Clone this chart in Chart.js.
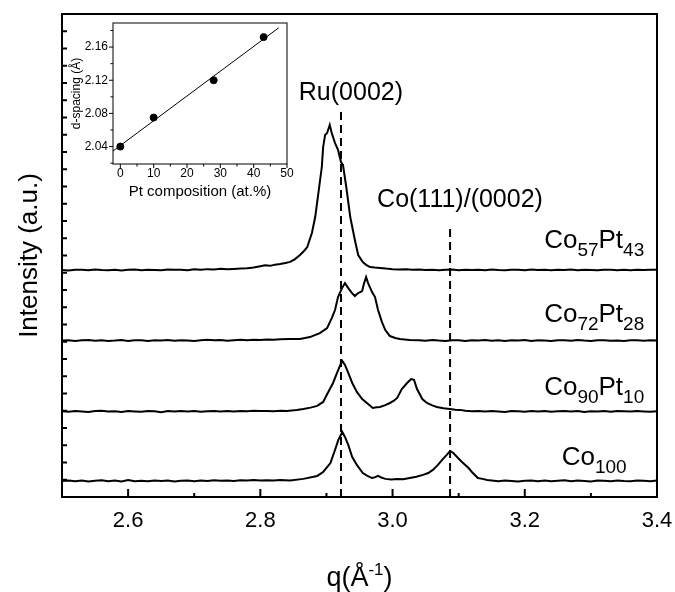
<!DOCTYPE html>
<html>
<head>
<meta charset="utf-8">
<script src="https://cdn.jsdelivr.net/npm/chart.js@4"></script>
<style>
  body { margin: 0; background: #fff; }
  #wrap { position: relative; width: 675px; height: 592px; }
  #mainChart { position: absolute; left: 0; top: 0; }
  #insetChart { position: absolute; left: 60px; top: 10px; }
</style>
</head>
<body>
<div id="wrap">
  <canvas id="mainChart" width="675" height="592"></canvas>
  <canvas id="insetChart" width="240" height="200"></canvas>
</div>
<script>
// ---- main chart data: q (1/A) and intensity above each curve's baseline (a.u.) ----
const q100 = [2.50,2.51,2.52,2.53,2.54,2.55,2.56,2.57,2.58,2.59,2.60,2.61,2.62,2.63,2.64,2.65,2.66,2.67,2.68,2.69,2.70,2.71,2.72,2.73,2.74,2.75,2.76,2.77,2.78,2.79,2.80,2.81,2.82,2.83,
  2.845,2.865,2.886,2.895,2.906,2.913,2.918,2.924,2.928,2.933,2.939,2.946,2.955,2.962,2.969,2.974,2.978,2.983,2.989,2.998,3.007,3.016,3.026,3.036,3.046,3.054,3.061,3.068,3.075,3.082,3.087,3.092,3.099,3.105,3.110,3.115,3.120,3.129,3.136,3.143,
  3.15,3.16,3.17,3.18,3.19,3.20,3.21,3.22,3.23,3.24,3.25,3.26,3.27,3.28,3.29,3.30,3.31,3.32,3.33,3.34,3.35,3.36,3.37,3.38,3.39,3.40];
const i100 = [0.00,0.03,-0.02,0.02,-0.03,0.01,0.04,-0.01,0.02,-0.03,0.06,-0.02,0.01,-0.02,0.03,0.00,0.02,-0.03,0.01,0.03,-0.01,0.02,0.00,0.04,0.01,0.03,0.00,0.04,0.02,0.05,0.03,0.04,0.02,0.05,
  0.02,0.12,0.29,0.52,1.04,1.80,2.38,2.84,2.55,2.09,1.39,0.93,0.46,0.30,0.17,0.22,0.30,0.20,0.12,0.08,0.12,0.10,0.17,0.24,0.35,0.46,0.64,0.90,1.22,1.51,1.74,1.62,1.33,1.10,0.93,0.75,0.52,0.17,0.12,0.06,
  0.03,-0.02,0.02,0.00,-0.03,0.01,0.03,-0.01,0.02,-0.02,0.01,0.04,-0.01,0.02,0.00,-0.03,0.02,0.01,-0.02,0.03,0.00,-0.02,0.02,0.01,-0.01,0.02];

const q90 = [2.50,2.51,2.52,2.53,2.54,2.55,2.56,2.57,2.58,2.59,2.60,2.61,2.62,2.63,2.64,2.65,2.66,2.67,2.68,2.69,2.70,2.71,2.72,2.73,2.74,2.75,2.76,2.77,2.78,2.79,2.80,2.81,2.82,2.83,2.84,
  2.855,2.865,2.876,2.886,2.895,2.902,2.910,2.916,2.921,2.924,2.928,2.933,2.939,2.946,2.954,2.963,2.970,2.976,2.981,2.988,2.996,3.002,3.007,3.014,3.022,3.028,3.0325,3.037,3.045,3.052,3.060,3.067,3.077,3.087,3.095,3.102,
  3.11,3.12,3.13,3.14,3.15,3.16,3.17,3.18,3.19,3.20,3.21,3.22,3.23,3.24,3.25,3.26,3.27,3.28,3.29,3.30,3.31,3.32,3.33,3.34,3.35,3.36,3.37,3.38,3.39,3.40];
const i90 = [0.01,-0.02,0.03,0.00,-0.03,0.02,0.04,-0.01,0.01,-0.03,0.02,0.00,-0.02,0.03,0.01,-0.04,0.02,0.00,0.03,-0.01,0.02,-0.02,0.01,0.03,0.00,0.02,-0.01,0.03,0.01,0.04,0.02,0.03,0.01,0.04,0.03,
  0.08,0.14,0.22,0.32,0.55,1.07,1.65,2.23,2.70,2.93,2.70,2.23,1.65,1.13,0.72,0.43,0.20,0.24,0.26,0.35,0.49,0.62,0.78,1.30,1.65,1.88,1.83,1.30,0.72,0.49,0.35,0.26,0.18,0.14,0.10,0.09,
  0.04,0.01,0.03,-0.01,0.02,0.00,-0.03,0.02,0.01,-0.02,0.03,0.00,0.02,-0.02,0.01,0.03,-0.01,0.02,-0.03,0.01,0.00,0.02,-0.02,0.03,0.01,-0.01,0.02,0.00,-0.02,0.01];

const q72 = [2.50,2.51,2.52,2.53,2.54,2.55,2.56,2.57,2.58,2.59,2.60,2.61,2.62,2.63,2.64,2.65,2.66,2.67,2.68,2.69,2.70,2.71,2.72,2.73,2.74,2.75,2.76,2.77,2.78,2.79,2.80,2.81,2.82,2.83,
  2.845,2.860,2.875,2.890,2.901,2.908,2.913,2.9175,2.9236,2.928,2.933,2.9387,2.943,2.948,2.954,2.957,2.960,2.963,2.969,2.9735,2.978,2.984,2.989,2.996,3.004,3.011,3.018,3.026,
  3.04,3.05,3.06,3.07,3.08,3.09,3.10,3.11,3.12,3.13,3.14,3.15,3.16,3.17,3.18,3.19,3.20,3.21,3.22,3.23,3.24,3.25,3.26,3.27,3.28,3.29,3.30,3.31,3.32,3.33,3.34,3.35,3.36,3.37,3.38,3.39,3.40];
const i72 = [0.00,0.02,-0.03,0.01,0.03,-0.01,0.02,-0.02,0.00,0.03,-0.02,0.01,0.02,-0.03,0.01,0.00,0.03,-0.01,0.02,0.00,-0.02,0.02,0.04,0.01,0.03,-0.01,0.02,0.05,0.02,0.04,0.03,0.06,0.04,0.07,
  0.09,0.09,0.20,0.43,0.72,1.30,1.77,2.52,3.04,3.33,3.04,2.75,2.58,2.75,2.87,3.33,3.68,3.33,2.81,2.52,1.77,1.07,0.61,0.26,0.15,0.09,0.06,0.03,
  0.02,-0.01,0.03,0.00,-0.02,0.02,0.01,-0.03,0.02,0.00,0.03,-0.01,0.01,-0.02,0.02,0.00,0.03,-0.02,0.01,0.00,-0.03,0.02,0.01,-0.01,0.03,0.00,-0.02,0.01,0.02,-0.01,0.00,-0.03,0.02,0.01,-0.01,0.02,0.00];

const q57 = [2.50,2.51,2.52,2.53,2.54,2.55,2.56,2.57,2.58,2.59,2.60,2.61,2.62,2.63,2.64,2.65,2.66,2.67,2.68,2.69,2.70,2.71,2.72,2.73,2.74,2.75,2.76,2.77,
  2.78,2.79,2.80,2.807,2.815,2.822,2.830,2.838,2.845,2.852,2.860,2.866,2.871,2.878,2.883,2.887,2.893,2.895,2.898,2.901,2.905,2.908,2.913,2.9175,2.922,2.925,2.930,2.936,2.943,2.948,2.955,2.960,2.966,2.973,2.981,2.990,
  3.00,3.01,3.02,3.03,3.04,3.05,3.06,3.07,3.08,3.09,3.10,3.11,3.12,3.13,3.14,3.15,3.16,3.17,3.18,3.19,3.20,3.21,3.22,3.23,3.24,3.25,3.26,3.27,3.28,3.29,3.30,3.31,3.32,3.33,3.34,3.35,3.36,3.37,3.38,3.39,3.40];
const i57 = [0.00,-0.03,0.02,0.01,-0.02,0.03,0.00,-0.01,0.02,-0.03,0.01,0.03,-0.01,0.02,0.00,-0.02,0.03,0.01,0.02,-0.01,0.04,0.02,0.05,0.03,0.07,0.04,0.06,0.08,
  0.10,0.15,0.22,0.27,0.24,0.31,0.35,0.40,0.47,0.62,0.87,1.10,1.33,2.14,3.07,4.23,5.97,7.13,7.83,7.94,8.41,7.94,7.36,6.96,6.26,6.09,4.81,3.07,1.74,0.87,0.46,0.30,0.17,0.14,0.12,0.08,
  0.05,0.03,0.04,0.02,0.03,0.00,0.02,-0.01,0.01,0.03,-0.02,0.01,0.00,0.02,-0.01,0.03,0.00,-0.02,0.02,0.01,-0.01,0.03,0.00,0.01,-0.02,0.02,0.00,0.03,-0.01,0.01,0.00,-0.02,0.02,0.01,-0.01,0.02,-0.02,0.01,0.00,0.02,0.01];

// bottom to top
const seriesQ = [q100, q90, q72, q57];
const seriesI = [i100, i90, i72, i57];
const offsets = [0.93, 4.96, 9.07, 13.16];
const sampleLabels = [['Co', '100'], ['Co', '90', 'Pt', '10'], ['Co', '72', 'Pt', '28'], ['Co', '57', 'Pt', '43']];
const sampleLabelY = [1.86, 5.91, 10.14, 14.43];
const sampleLabelQ = 3.305;

// reference peak positions (dashed lines) and their labels
const peakQ = [2.922, 3.087];
const peakTop = [22.55, 15.6];
const peakNames = ['Ru(0002)', 'Co(111)/(0002)'];
const peakLabelPos = [[2.937, 23.42], [3.102, 17.22]];

const xMajor = [2.6, 2.8, 3.0, 3.2, 3.4];
const xMinor = [2.5, 2.7, 2.9, 3.1, 3.3];

// ---- inset data ----
const ptComp = [0, 10, 28, 43];
const dSpacing = [2.040, 2.075, 2.120, 2.172];
const fitRange = [-2.5, 47.5];
const inXMajor = [0, 10, 20, 30, 40, 50];
const inXMinor = [5, 15, 25, 35, 45];
const inYMajor = [2.04, 2.08, 2.12, 2.16];
const inYMinor = [2.02, 2.06, 2.10, 2.14, 2.18];

const FONT = '"Liberation Sans", Arial, Helvetica, sans-serif';

// frame + tick marks (in or out) drawn on the chart's own scales
const frameTicks = {
  id: 'frameTicks',
  afterDraw(chart, args, opts) {
    const ctx = chart.ctx, a = chart.chartArea;
    ctx.save();
    ctx.strokeStyle = '#000';
    ctx.lineWidth = opts.frame;
    ctx.strokeRect(a.left, a.top, a.right - a.left, a.bottom - a.top);
    ctx.lineWidth = opts.tick;
    ['x', 'y'].forEach(id => {
      const s = chart.scales[id], o = opts[id];
      s.ticks.forEach(t => {
        const len = t.label === '' ? o.minor : o.major;
        const p = s.getPixelForValue(t.value);
        ctx.beginPath();
        if (id === 'x') { ctx.moveTo(p, a.bottom); ctx.lineTo(p, a.bottom + o.dir * len); }
        else { ctx.moveTo(a.left, p); ctx.lineTo(a.left - o.dir * len, p); }
        ctx.stroke();
      });
    });
    ctx.restore();
  }
};

// text with sub/superscripts: parts = [text, size, dy]
function drawRich(ctx, parts, cx, by) {
  let w = 0;
  parts.forEach(p => { ctx.font = p[1] + 'px ' + FONT; w += ctx.measureText(p[0]).width; });
  let x = cx - w / 2;
  ctx.textAlign = 'left';
  ctx.textBaseline = 'alphabetic';
  parts.forEach(p => {
    ctx.font = p[1] + 'px ' + FONT;
    ctx.fillText(p[0], x, by + p[2]);
    x += ctx.measureText(p[0]).width;
  });
}

const annotations = {
  id: 'annotations',
  afterDraw(chart) {
    const ctx = chart.ctx, xs = chart.scales.x, ys = chart.scales.y;
    ctx.save();
    ctx.fillStyle = '#000';
    sampleLabels.forEach((lab, k) => {
      const parts = lab.map((t, j) => j % 2 === 0 ? [t, 26, 0] : [t, 19, 8]);
      drawRich(ctx, parts, xs.getPixelForValue(sampleLabelQ), ys.getPixelForValue(sampleLabelY[k]));
    });
    ctx.font = '25px ' + FONT;
    ctx.textAlign = 'center';
    ctx.textBaseline = 'middle';
    peakNames.forEach((n, k) => {
      ctx.fillText(n, xs.getPixelForValue(peakLabelPos[k][0]), ys.getPixelForValue(peakLabelPos[k][1]));
    });
    // x axis title with superscript
    const a = chart.chartArea;
    drawRich(ctx, [['q(Å', 27, 0], ['-1', 17, -11], [')', 27, 0]], (a.left + a.right) / 2, chart.height - 6);
    ctx.restore();
  }
};

const curveSets = seriesQ.map((qs, k) => ({
  data: qs.map((qv, j) => ({ x: qv, y: seriesI[k][j] + offsets[k] })),
  borderColor: '#000',
  borderWidth: 2,
  pointRadius: 0,
  tension: 0
}));
const dashSets = peakQ.map((qv, k) => ({
  data: [{ x: qv, y: 0 }, { x: qv, y: peakTop[k] }],
  borderColor: '#000',
  borderWidth: 2,
  borderDash: [8, 5],
  pointRadius: 0
}));

new Chart(document.getElementById('mainChart'), {
  type: 'line',
  data: { datasets: curveSets.concat(dashSets) },
  options: {
    responsive: false,
    animation: false,
    devicePixelRatio: 1,
    layout: { padding: { left: 0, top: 14, right: 18, bottom: 0 } },
    plugins: {
      legend: { display: false },
      tooltip: { enabled: false },
      frameTicks: { frame: 2, tick: 2, x: { dir: -1, major: 8, minor: 4 }, y: { dir: -1, major: 5, minor: 5 } }
    },
    scales: {
      x: {
        type: 'linear', min: 2.5, max: 3.4,
        afterBuildTicks: s => { s.ticks = xMinor.concat(xMajor).sort((a, b) => a - b).map(v => ({ value: v })); },
        afterFit: s => { s.height = 95; s.paddingLeft = 0; s.paddingRight = 0; },
        grid: { display: false, drawTicks: false },
        border: { display: false },
        ticks: {
          autoSkip: false, maxRotation: 0, padding: 11, color: '#000',
          font: { family: FONT, size: 22 },
          callback: v => xMajor.includes(v) ? v.toFixed(1) : ''
        }
      },
      y: {
        type: 'linear', min: 0, max: 28,
        ticks: { display: false, stepSize: 1 },
        afterFit: s => { s.width = 62; s.paddingTop = 0; s.paddingBottom = 0; },
        grid: { display: false, drawTicks: false },
        border: { display: false },
        title: { display: true, text: 'Intensity (a.u.)', color: '#000', font: { family: FONT, size: 26 }, padding: { top: 14, bottom: 0 } }
      }
    }
  },
  plugins: [frameTicks, annotations]
});

// inset: linear fit of d-spacing vs Pt content
const n = ptComp.length;
const mx = ptComp.reduce((s, v) => s + v, 0) / n;
const my = dSpacing.reduce((s, v) => s + v, 0) / n;
let sxy = 0, sxx = 0;
ptComp.forEach((v, i) => { sxy += (v - mx) * (dSpacing[i] - my); sxx += (v - mx) * (v - mx); });
const slope = sxy / sxx, icpt = my - slope * mx;

new Chart(document.getElementById('insetChart'), {
  type: 'scatter',
  data: {
    datasets: [
      {
        type: 'line',
        data: fitRange.map(v => ({ x: v, y: icpt + slope * v })),
        borderColor: '#000', borderWidth: 1, pointRadius: 0
      },
      {
        data: ptComp.map((v, i) => ({ x: v, y: dSpacing[i] })),
        backgroundColor: '#000', borderColor: '#000', pointRadius: 3.5
      }
    ]
  },
  options: {
    responsive: false,
    animation: false,
    devicePixelRatio: 1,
    layout: { padding: { left: 0, top: 13, right: 13, bottom: 0 } },
    plugins: {
      legend: { display: false },
      tooltip: { enabled: false },
      frameTicks: { frame: 1, tick: 1, x: { dir: 1, major: 4, minor: 2.5 }, y: { dir: 1, major: 4, minor: 2.5 } }
    },
    scales: {
      x: {
        type: 'linear', min: -2.2, max: 50,
        afterBuildTicks: s => { s.ticks = inXMinor.concat(inXMajor).sort((a, b) => a - b).map(v => ({ value: v })); },
        afterFit: s => { s.height = 46; s.paddingLeft = 0; s.paddingRight = 0; },
        grid: { display: false, drawTicks: false },
        border: { display: false },
        ticks: {
          autoSkip: false, maxRotation: 0, padding: 2, color: '#000',
          font: { family: FONT, size: 12 },
          callback: v => inXMajor.includes(v) ? String(v) : ''
        },
        title: { display: true, text: 'Pt composition (at.%)', color: '#000', font: { family: FONT, size: 15 }, padding: { top: 0, bottom: 9 } }
      },
      y: {
        type: 'linear', min: 2.019, max: 2.189,
        afterBuildTicks: s => { s.ticks = inYMinor.concat(inYMajor).sort((a, b) => a - b).map(v => ({ value: v })); },
        afterFit: s => { s.width = 53; s.paddingTop = 0; s.paddingBottom = 0; },
        grid: { display: false, drawTicks: false },
        border: { display: false },
        ticks: {
          autoSkip: false, padding: 5, color: '#000',
          font: { family: FONT, size: 12 },
          callback: v => inYMajor.includes(v) ? v.toFixed(2) : ''
        },
        title: { display: true, text: 'd-spacing (Å)', color: '#000', font: { family: FONT, size: 12 }, padding: { top: 9, bottom: 0 } }
      }
    }
  },
  plugins: [frameTicks]
});
</script>
</body>
</html>
